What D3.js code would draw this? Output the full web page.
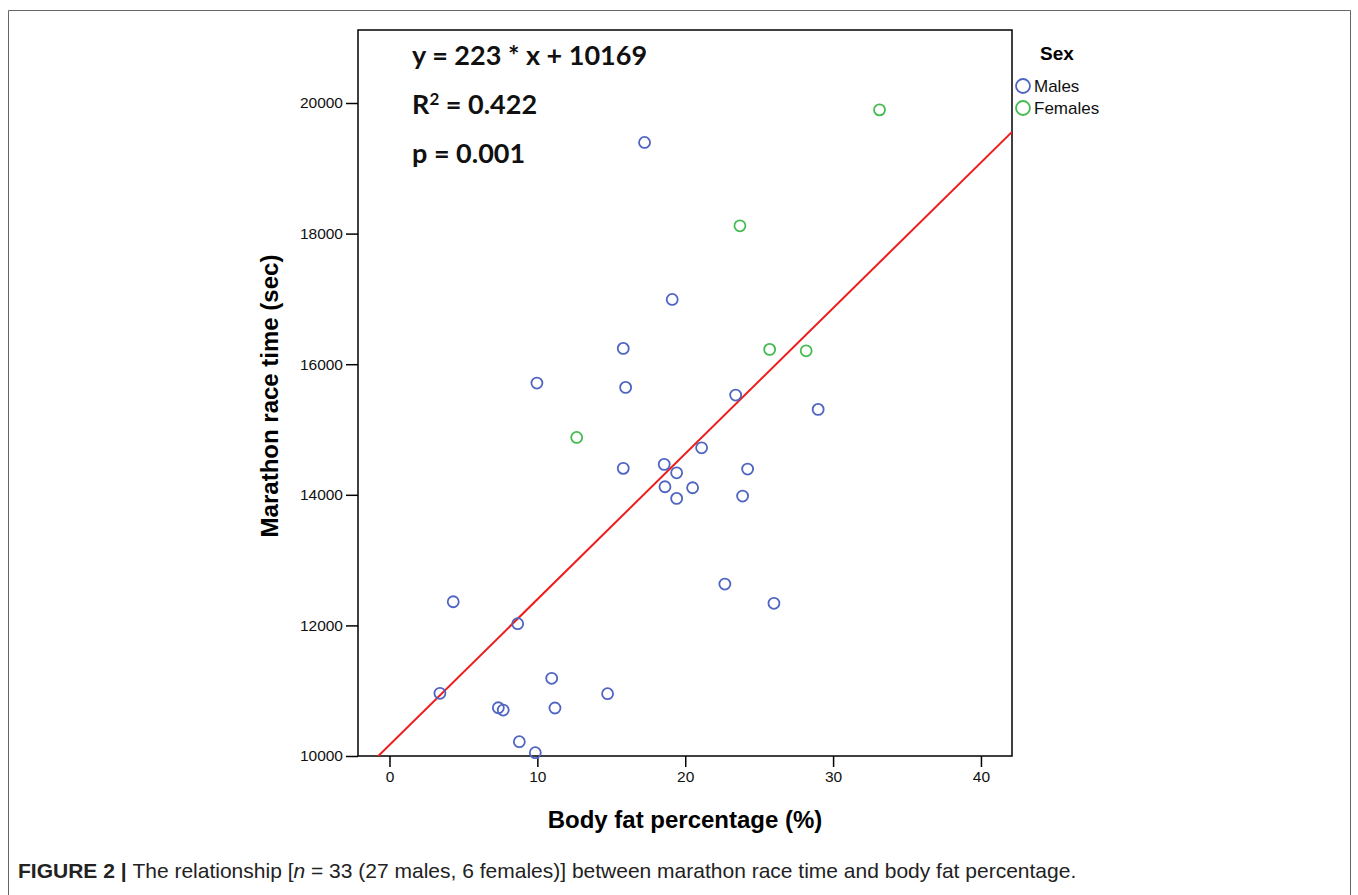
<!DOCTYPE html>
<html>
<head>
<meta charset="utf-8">
<script src="https://cdn.jsdelivr.net/npm/d3@7"></script>
<style>
  body { margin: 0; background: #fff; }
  svg { display: block; }
</style>
</head>
<body>
<div id="chart"></div>
<script>
// body fat (%) and marathon time (sec)
var maleFat  = [17.25, 19.12, 15.81, 9.97, 15.97, 23.41, 28.99, 21.11, 18.58, 15.81, 19.42, 24.22, 18.63, 20.50,
                23.88, 19.42, 22.68, 26.0, 4.31, 8.67, 10.97, 3.41, 14.75, 7.36, 7.69, 11.19, 8.78, 9.86];
var maleTime = [19396, 16992, 16242, 15711, 15645, 15527, 15308, 14720, 14466, 14405, 14337, 14394, 14123, 14108,
                13981, 13945, 12633, 12338, 12362, 12026, 11190, 10960, 10954, 10739, 10704, 10735, 10219, 10051];
var femaleFat  = [33.14, 23.70, 25.71, 28.18, 12.66];
var femaleTime = [19895, 18119, 16227, 16205, 14879];

var xTicks = [0, 10, 20, 30, 40];
var yTicks = [10000, 12000, 14000, 16000, 18000, 20000];

var slope = 223, intercept = 10169;
var statLines = ["y = 223 * x + 10169", "R2 = 0.422", "p = 0.001"];

var width = 1358, height = 895;
var plot = {left: 358, right: 1012, top: 30, bottom: 756};

var svg = d3.select("#chart").append("svg")
    .attr("width", width)
    .attr("height", height);

// outer figure frame
svg.append("path")
    .attr("d", "M8.5," + height + "V10.5H1350.5V" + height)
    .attr("fill", "none")
    .attr("stroke", "#666")
    .attr("stroke-width", 1);

var x = d3.scaleLinear()
    .domain([-2.13, 42.1])
    .range([plot.left, plot.right]);

var y = d3.scaleLinear()
    .domain([10000, 21118])
    .range([plot.bottom, plot.top]);

svg.append("clipPath").attr("id", "clip")
    .append("rect")
    .attr("x", plot.left).attr("y", plot.top)
    .attr("width", plot.right - plot.left)
    .attr("height", plot.bottom - plot.top);

// axes
var xAxis = svg.append("g")
    .attr("transform", "translate(0," + plot.bottom + ")")
    .call(d3.axisBottom(x).tickValues(xTicks).tickFormat(d3.format("d"))
        .tickSize(11).tickPadding(4).tickSizeOuter(0));

var yAxis = svg.append("g")
    .attr("transform", "translate(" + plot.left + ",0)")
    .call(d3.axisLeft(y).tickValues(yTicks).tickFormat(d3.format("d"))
        .tickSize(12).tickPadding(3).tickSizeOuter(0));

[xAxis, yAxis].forEach(function (ax) {
    ax.select(".domain").remove();
    ax.selectAll(".tick line").attr("stroke", "#000").attr("stroke-width", 1.5);
    ax.selectAll(".tick text")
        .attr("fill", "#111")
        .style("font-family", "'Liberation Sans', Arial, sans-serif")
        .style("font-size", "15.5px");
});

// plot frame
svg.append("rect")
    .attr("x", plot.left).attr("y", plot.top)
    .attr("width", plot.right - plot.left)
    .attr("height", plot.bottom - plot.top)
    .attr("fill", "none")
    .attr("stroke", "#000")
    .attr("stroke-width", 1.5);

// regression line
svg.append("line")
    .attr("clip-path", "url(#clip)")
    .attr("x1", x(-2.13)).attr("y1", y(slope * -2.13 + intercept))
    .attr("x2", x(42.1)).attr("y2", y(slope * 42.1 + intercept))
    .attr("stroke", "#ee1c1c")
    .attr("stroke-width", 2);

var blue = "#5065c2", green = "#45bb50";

function drawPoints(xs, ys, color) {
    svg.append("g").selectAll("circle")
        .data(xs.map(function (d, i) { return {x: d, y: ys[i]}; }))
        .enter().append("circle")
        .attr("cx", function (d) { return x(d.x); })
        .attr("cy", function (d) { return y(d.y); })
        .attr("r", 5.5)
        .attr("fill", "none")
        .attr("stroke", color)
        .attr("stroke-width", 1.8);
}
drawPoints(maleFat, maleTime, blue);
drawPoints(femaleFat, femaleTime, green);

// regression stats
var stats = svg.append("g")
    .style("font-family", "Lato, 'Open Sans', sans-serif")
    .style("font-weight", "bold")
    .style("font-size", "27px")
    .attr("fill", "#111");

stats.append("text").attr("x", 412).attr("y", 65).text(statLines[0]);
var r2 = stats.append("text").attr("x", 412).attr("y", 114);
r2.append("tspan").text("R");
r2.append("tspan").attr("dy", -9).style("font-size", "17px").text("2");
r2.append("tspan").attr("dy", 9).text(" = 0.422");
stats.append("text").attr("x", 412).attr("y", 163).text(statLines[2]);

// axis titles
svg.append("text")
    .attr("x", (plot.left + plot.right) / 2)
    .attr("y", 828)
    .attr("text-anchor", "middle")
    .style("font-family", "'Liberation Sans', Arial, sans-serif")
    .style("font-weight", "bold")
    .style("font-size", "24px")
    .text("Body fat percentage (%)");

svg.append("text")
    .attr("transform", "translate(278," + ((plot.top + plot.bottom) / 2 + 3) + ") rotate(-90)")
    .attr("text-anchor", "middle")
    .style("font-family", "'Liberation Sans', Arial, sans-serif")
    .style("font-weight", "bold")
    .style("font-size", "24px")
    .text("Marathon race time (sec)");

// legend
var legend = svg.append("g")
    .style("font-family", "'Liberation Sans', Arial, sans-serif");
legend.append("text")
    .attr("x", 1040).attr("y", 60)
    .style("font-weight", "bold").style("font-size", "19px")
    .text("Sex");
[["Males", blue], ["Females", green]].forEach(function (d, i) {
    legend.append("circle")
        .attr("cx", 1023).attr("cy", 86 + i * 22)
        .attr("r", 7)
        .attr("fill", "none")
        .attr("stroke", d[1])
        .attr("stroke-width", 1.8);
    legend.append("text")
        .attr("x", 1034).attr("y", 92 + i * 22)
        .style("font-size", "17px")
        .attr("fill", "#111")
        .text(d[0]);
});

// caption
var cap = svg.append("text")
    .attr("x", 18).attr("y", 878)
    .style("font-family", "'Liberation Sans', Arial, sans-serif")
    .style("font-size", "21px")
    .attr("fill", "#222");
cap.append("tspan").style("font-weight", "bold").text("FIGURE 2 | ");
cap.append("tspan").text("The relationship [");
cap.append("tspan").style("font-style", "italic").text("n");
cap.append("tspan").text(" = 33 (27 males, 6 females)] between marathon race time and body fat percentage.");
</script>
</body>
</html>
